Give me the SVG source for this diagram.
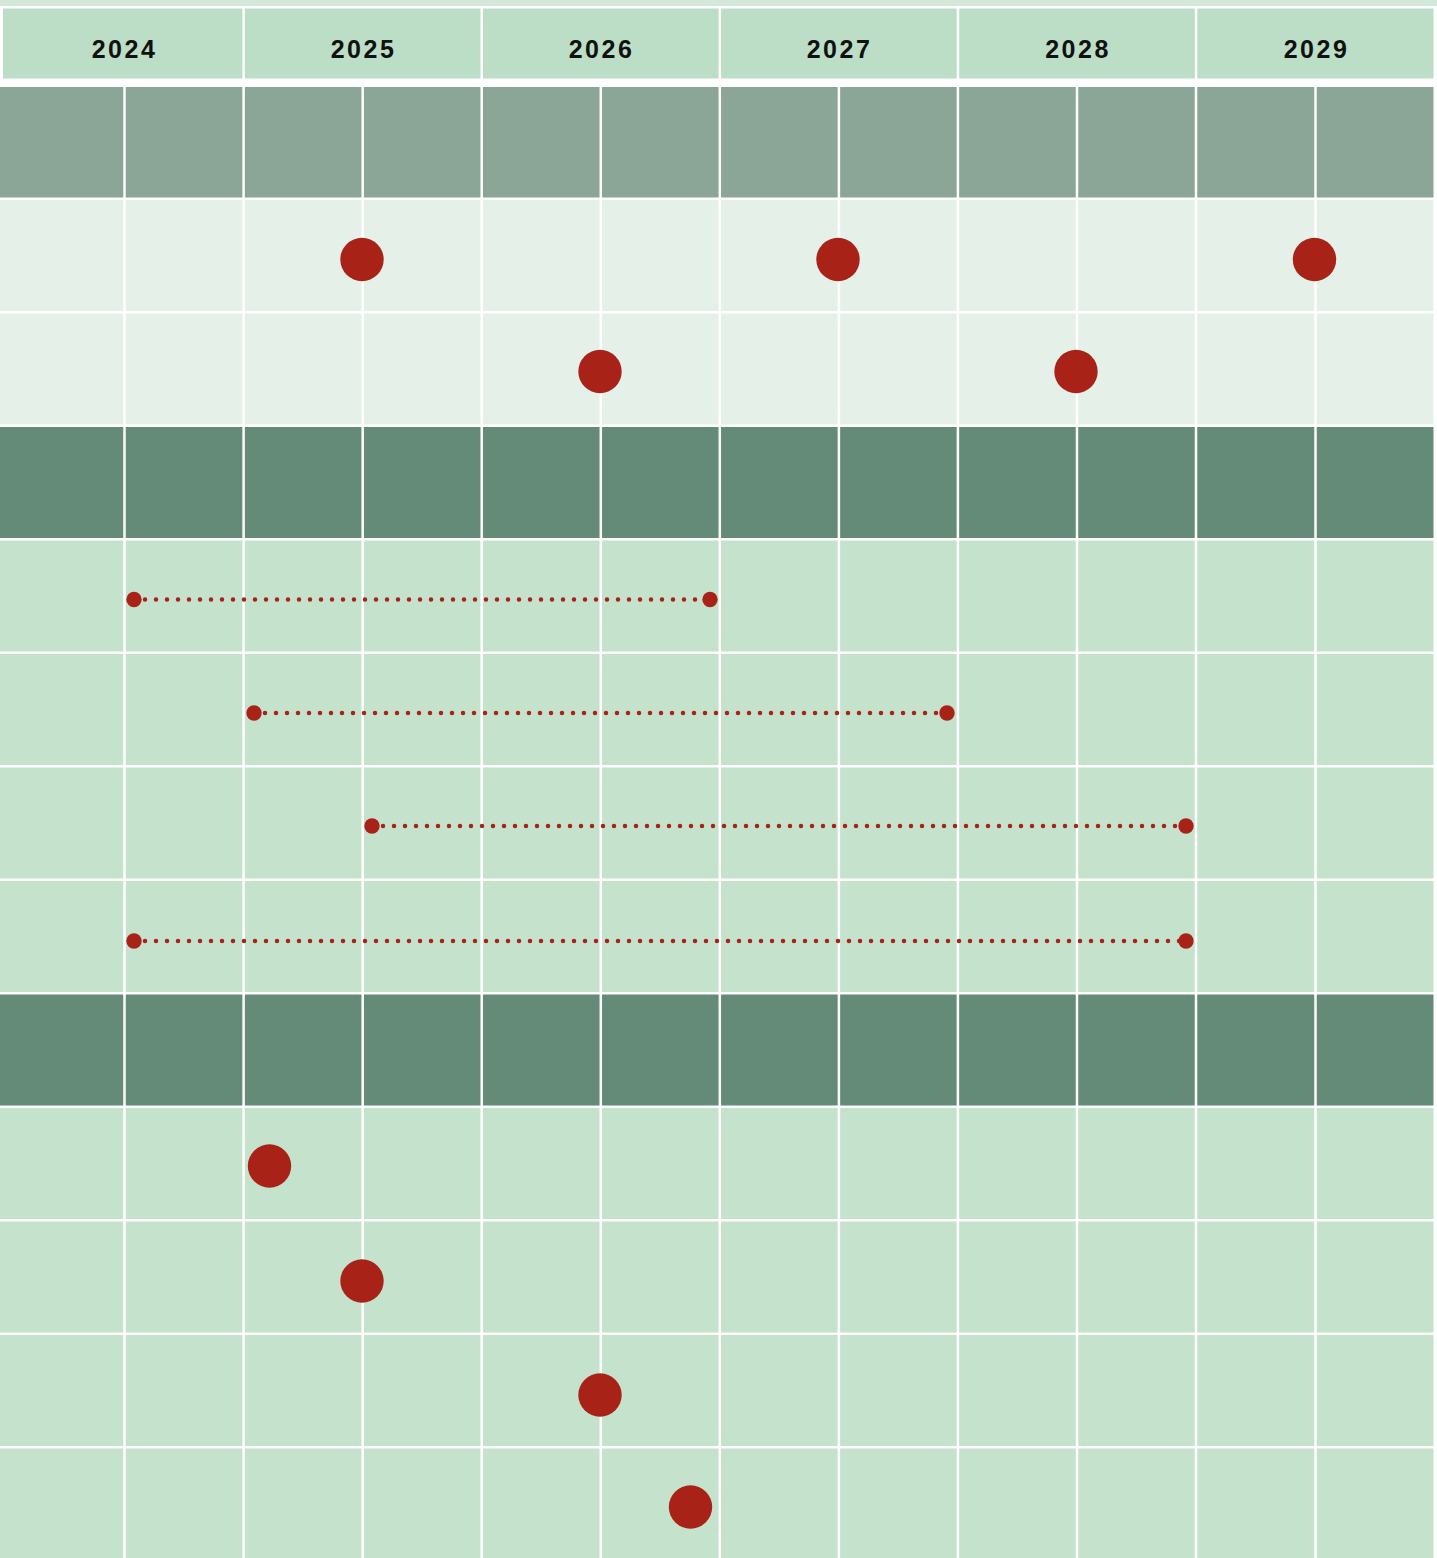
<svg xmlns="http://www.w3.org/2000/svg" width="1437" height="1558" viewBox="0 0 1437 1558">
<style>
.hdr{fill:#bcdec6}
.yr{font-family:"Liberation Sans",Arial,sans-serif;font-weight:bold;font-size:25px;letter-spacing:2.5px;fill:#111;text-anchor:middle}
.gray{fill:#8ba596}
.pale{fill:#e5f1e8}
.dark{fill:#638b78}
.mid{fill:#c4e2cc}
.vl{stroke:#ffffff;stroke-width:2.5}
.big{fill:#a82218}
.end{fill:#a82218}
.dots{stroke:#a82218;stroke-width:4.5;stroke-linecap:round;stroke-dasharray:0 11;fill:none}
</style>
<rect x="0" y="0" width="1437" height="1558" fill="#ffffff"/>
<g id="background">
<rect x="0" y="0" width="1437" height="6" fill="#d3e8d9"/>
<rect class="hdr" x="3" y="8.5" width="239.4" height="70"/>
<rect class="hdr" x="244.9" y="8.5" width="235.6" height="70"/>
<rect class="hdr" x="483" y="8.5" width="235.6" height="70"/>
<rect class="hdr" x="721.1" y="8.5" width="235.6" height="70"/>
<rect class="hdr" x="959.2" y="8.5" width="235.6" height="70"/>
<rect class="hdr" x="1197.3" y="8.5" width="236.2" height="70"/>
<rect class="gray" x="0" y="87" width="1433.5" height="110.5"/>
<rect class="pale" x="0" y="200" width="1433.5" height="111"/>
<rect class="pale" x="0" y="313.5" width="1433.5" height="111"/>
<rect class="dark" x="0" y="427" width="1433.5" height="111"/>
<rect class="mid" x="0" y="540.5" width="1433.5" height="111"/>
<rect class="mid" x="0" y="654" width="1433.5" height="111"/>
<rect class="mid" x="0" y="767.5" width="1433.5" height="111"/>
<rect class="mid" x="0" y="881" width="1433.5" height="111"/>
<rect class="dark" x="0" y="994.5" width="1433.5" height="111"/>
<rect class="mid" x="0" y="1108" width="1433.5" height="111"/>
<rect class="mid" x="0" y="1221.5" width="1433.5" height="111"/>
<rect class="mid" x="0" y="1335" width="1433.5" height="111"/>
<rect class="mid" x="0" y="1448.5" width="1433.5" height="110"/>
</g>
<g id="gridlines">
<line class="vl" x1="124.5" y1="87" x2="124.5" y2="1558"/>
<line class="vl" x1="243.6" y1="87" x2="243.6" y2="1558"/>
<line class="vl" x1="362.7" y1="87" x2="362.7" y2="1558"/>
<line class="vl" x1="481.7" y1="87" x2="481.7" y2="1558"/>
<line class="vl" x1="600.8" y1="87" x2="600.8" y2="1558"/>
<line class="vl" x1="719.8" y1="87" x2="719.8" y2="1558"/>
<line class="vl" x1="838.9" y1="87" x2="838.9" y2="1558"/>
<line class="vl" x1="957.9" y1="87" x2="957.9" y2="1558"/>
<line class="vl" x1="1077" y1="87" x2="1077" y2="1558"/>
<line class="vl" x1="1196" y1="87" x2="1196" y2="1558"/>
<line class="vl" x1="1315.5" y1="87" x2="1315.5" y2="1558"/>
</g>
<g id="header">
<text class="yr" x="124.5" y="58">2024</text>
<text class="yr" x="363.5" y="58">2025</text>
<text class="yr" x="601.5" y="58">2026</text>
<text class="yr" x="839.5" y="58">2027</text>
<text class="yr" x="1078" y="58">2028</text>
<text class="yr" x="1316.5" y="58">2029</text>
</g>
<g id="connectors">
<line class="dots" x1="134" y1="599.5" x2="710" y2="599.5"/>
<line class="dots" x1="254" y1="713" x2="947" y2="713"/>
<line class="dots" x1="372" y1="826" x2="1186" y2="826"/>
<line class="dots" x1="134" y1="941" x2="1186" y2="941"/>
</g>
<g id="span-ends">
<circle class="end" cx="134" cy="599.5" r="7.7"/>
<circle class="end" cx="710" cy="599.5" r="7.7"/>
<circle class="end" cx="254" cy="713" r="7.7"/>
<circle class="end" cx="947" cy="713" r="7.7"/>
<circle class="end" cx="372" cy="826" r="7.7"/>
<circle class="end" cx="1186" cy="826" r="7.7"/>
<circle class="end" cx="134" cy="941" r="7.7"/>
<circle class="end" cx="1186" cy="941" r="7.7"/>
</g>
<g id="milestones">
<circle id="m1" class="big" cx="362" cy="259.5" r="21.7"/>
<circle id="m2" class="big" cx="838" cy="259.5" r="21.7"/>
<circle id="m3" class="big" cx="1314.5" cy="259.5" r="21.7"/>
<circle id="m4" class="big" cx="600" cy="371.5" r="21.7"/>
<circle id="m5" class="big" cx="1076" cy="371.5" r="21.7"/>
<circle id="m6" class="big" cx="269.5" cy="1166" r="21.7"/>
<circle id="m7" class="big" cx="362" cy="1281" r="21.7"/>
<circle id="m8" class="big" cx="600" cy="1395" r="21.7"/>
<circle id="m9" class="big" cx="690.5" cy="1507" r="21.7"/>
</g>
</svg>
